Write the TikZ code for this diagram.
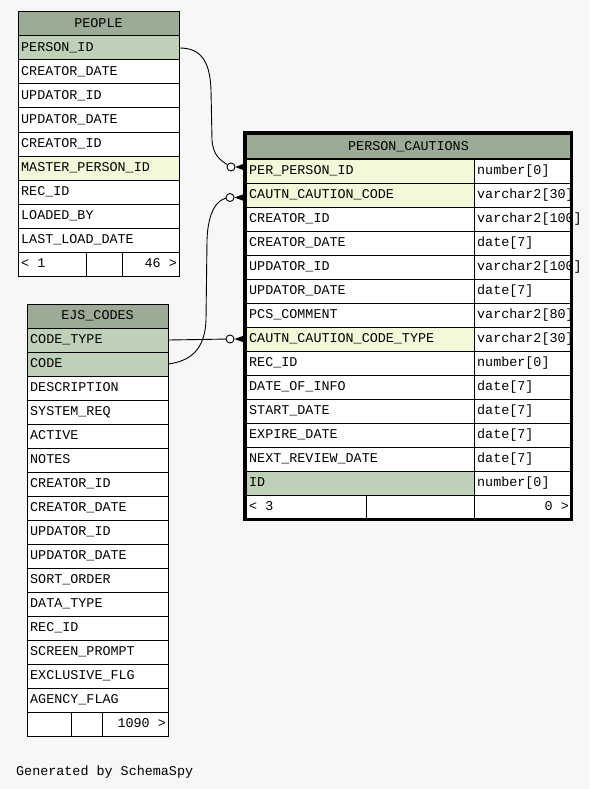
\documentclass[tikz,border=0pt]{standalone}
\usepackage{fontspec}
\setmonofont{Liberation Mono}
\definecolor{bgc}{HTML}{F7F7F7}
\definecolor{hdr}{HTML}{9BAB96}
\definecolor{pkc}{HTML}{BED1B8}
\definecolor{fkc}{HTML}{F4F7DA}
\tikzset{
  cellbox/.style={draw=black, line width=1pt, minimum height=24pt, inner sep=0pt, anchor=north west},
  celltext/.style={font=\ttfamily\fontsize{13.4}{13.4}\selectfont, inner sep=0pt},
  conn/.style={draw=black, line width=0.9pt},
  ring/.style={circle, draw=black, line width=0.9pt, fill=white, minimum size=8pt, inner sep=0pt},
}
% name, x, y, width, fill, text
\newcommand\erow[6]{%
  \node[cellbox, fill=#5, minimum width=#4pt] (#1) at (#2,#3) {};
  \node[celltext, anchor=base west] at ([xshift=3.5pt,yshift=-3.5pt]#1.west) {#6};}
\newcommand\ehead[5]{%
  \node[cellbox, fill=hdr, minimum width=#4pt] (#1) at (#2,#3) {};
  \node[celltext, anchor=base] at ([yshift=-3.5pt]#1.center) {#5};}
\newcommand\eblank[4]{%
  \node[cellbox, fill=white, minimum width=#4pt] (#1) at (#2,#3) {};}
\begin{document}
\begin{tikzpicture}[x=1pt,y=-1pt]
\fill[bgc] (0,0) rectangle (589,789);
\useasboundingbox (0,0) rectangle (589,789);

% ---------------- PEOPLE ----------------
\ehead{people}{17.5}{11.5}{161}{PEOPLE}
\erow{p1}{17.5}{35.5}{161}{pkc}{PERSON\_ID}
\erow{p2}{17.5}{59.5}{161}{white}{CREATOR\_DATE}
\erow{p3}{17.5}{83.5}{161}{white}{UPDATOR\_ID}
\erow{p4}{17.5}{107.5}{161}{white}{UPDATOR\_DATE}
\erow{p5}{17.5}{131.5}{161}{white}{CREATOR\_ID}
\erow{p6}{17.5}{155.5}{161}{fkc}{MASTER\_PERSON\_ID}
\erow{p7}{17.5}{179.5}{161}{white}{REC\_ID}
\erow{p8}{17.5}{203.5}{161}{white}{LOADED\_BY}
\erow{p9}{17.5}{227.5}{161}{white}{LAST\_LOAD\_DATE}
\erow{pfa}{17.5}{251.5}{68}{white}{< 1}
\eblank{pfb}{85.5}{251.5}{36}
\eblank{pfc}{121.5}{251.5}{57}
\node[celltext, anchor=base east] at ([xshift=-2.5pt,yshift=-3.5pt]pfc.east) {46 >};

% ---------------- EJS_CODES ----------------
\ehead{ejs}{26.5}{303.5}{141}{EJS\_CODES}
\erow{e1}{26.5}{327.5}{141}{pkc}{CODE\_TYPE}
\erow{e2}{26.5}{351.5}{141}{pkc}{CODE}
\erow{e3}{26.5}{375.5}{141}{white}{DESCRIPTION}
\erow{e4}{26.5}{399.5}{141}{white}{SYSTEM\_REQ}
\erow{e5}{26.5}{423.5}{141}{white}{ACTIVE}
\erow{e6}{26.5}{447.5}{141}{white}{NOTES}
\erow{e7}{26.5}{471.5}{141}{white}{CREATOR\_ID}
\erow{e8}{26.5}{495.5}{141}{white}{CREATOR\_DATE}
\erow{e9}{26.5}{519.5}{141}{white}{UPDATOR\_ID}
\erow{e10}{26.5}{543.5}{141}{white}{UPDATOR\_DATE}
\erow{e11}{26.5}{567.5}{141}{white}{SORT\_ORDER}
\erow{e12}{26.5}{591.5}{141}{white}{DATA\_TYPE}
\erow{e13}{26.5}{615.5}{141}{white}{REC\_ID}
\erow{e14}{26.5}{639.5}{141}{white}{SCREEN\_PROMPT}
\erow{e15}{26.5}{663.5}{141}{white}{EXCLUSIVE\_FLG}
\erow{e16}{26.5}{687.5}{141}{white}{AGENCY\_FLAG}
\eblank{efa}{26.5}{711.5}{44}
\eblank{efb}{70.5}{711.5}{31}
\eblank{efc}{101.5}{711.5}{66}
\node[celltext, anchor=base east] at ([xshift=-2.5pt,yshift=-3.5pt]efc.east) {1090 >};

% ---------------- PERSON_CAUTIONS ----------------
\ehead{pc}{245.5}{134}{325}{PERSON\_CAUTIONS}
\erow{pc1}{245.5}{158.5}{228}{fkc}{PER\_PERSON\_ID}
\erow{pc1t}{473.5}{158.5}{97}{white}{number[0]}
\erow{pc2}{245.5}{182.5}{228}{fkc}{CAUTN\_CAUTION\_CODE}
\erow{pc2t}{473.5}{182.5}{97}{white}{varchar2[30]}
\erow{pc3}{245.5}{206.5}{228}{white}{CREATOR\_ID}
\erow{pc3t}{473.5}{206.5}{97}{white}{varchar2[100]}
\erow{pc4}{245.5}{230.5}{228}{white}{CREATOR\_DATE}
\erow{pc4t}{473.5}{230.5}{97}{white}{date[7]}
\erow{pc5}{245.5}{254.5}{228}{white}{UPDATOR\_ID}
\erow{pc5t}{473.5}{254.5}{97}{white}{varchar2[100]}
\erow{pc6}{245.5}{278.5}{228}{white}{UPDATOR\_DATE}
\erow{pc6t}{473.5}{278.5}{97}{white}{date[7]}
\erow{pc7}{245.5}{302.5}{228}{white}{PCS\_COMMENT}
\erow{pc7t}{473.5}{302.5}{97}{white}{varchar2[80]}
\erow{pc8}{245.5}{326.5}{228}{fkc}{CAUTN\_CAUTION\_CODE\_TYPE}
\erow{pc8t}{473.5}{326.5}{97}{white}{varchar2[30]}
\erow{pc9}{245.5}{350.5}{228}{white}{REC\_ID}
\erow{pc9t}{473.5}{350.5}{97}{white}{number[0]}
\erow{pc10}{245.5}{374.5}{228}{white}{DATE\_OF\_INFO}
\erow{pc10t}{473.5}{374.5}{97}{white}{date[7]}
\erow{pc11}{245.5}{398.5}{228}{white}{START\_DATE}
\erow{pc11t}{473.5}{398.5}{97}{white}{date[7]}
\erow{pc12}{245.5}{422.5}{228}{white}{EXPIRE\_DATE}
\erow{pc12t}{473.5}{422.5}{97}{white}{date[7]}
\erow{pc13}{245.5}{446.5}{228}{white}{NEXT\_REVIEW\_DATE}
\erow{pc13t}{473.5}{446.5}{97}{white}{date[7]}
\erow{pc14}{245.5}{470.5}{228}{pkc}{ID}
\erow{pc14t}{473.5}{470.5}{97}{white}{number[0]}
\erow{pcfa}{245.5}{494.5}{120}{white}{< 3}
\eblank{pcfb}{365.5}{494.5}{108}
\eblank{pcfc}{473.5}{494.5}{97}
\node[celltext, anchor=base east] at ([xshift=-2.5pt,yshift=-3.5pt]pcfc.east) {0 >};
% thick outer border
\draw[line width=3pt] (244.5,132.5) rectangle (571.5,519.5);

% ---------------- connectors ----------------
\node[ring] (c1) at (231,167) {};
\node[ring] (c2) at (230,197.5) {};
\node[ring] (c3) at (230,339) {};

\draw[conn] (p1.east) .. controls (200,48) and (210,60) .. (211,90)
  -- (212,140) .. controls (213,155) and (220,160) .. (c1);
\draw[conn] (e2.east) .. controls (190,361) and (205,350) .. (206,320)
  -- (207,240) .. controls (208,210) and (218,200) .. (c2);
\draw[conn] (e1.east) -- (c3);

\fill (c1.east) -- ([yshift=4pt]c1.east -| pc1.west) -- ([yshift=-4pt]c1.east -| pc1.west) -- cycle;
\fill (c2.east) -- ([yshift=4pt]c2.east -| pc2.west) -- ([yshift=-4pt]c2.east -| pc2.west) -- cycle;
\fill (c3.east) -- ([yshift=4pt]c3.east -| pc8.west) -- ([yshift=-4pt]c3.east -| pc8.west) -- cycle;

\node[celltext, anchor=base west] (gen) at (16,775) {Generated by SchemaSpy};
\end{tikzpicture}
\end{document}
